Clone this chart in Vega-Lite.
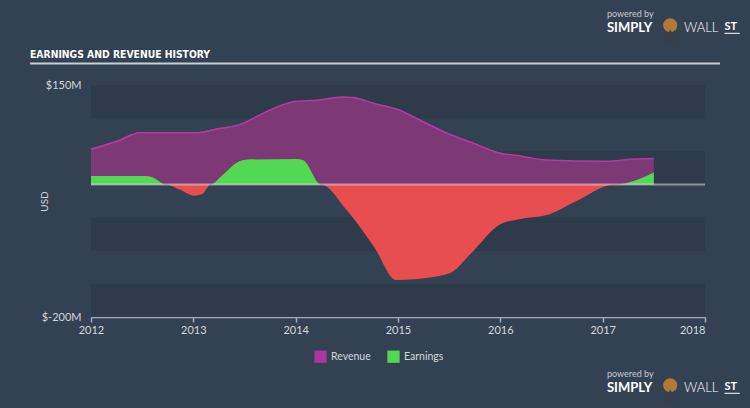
{
  "$schema": "https://vega.github.io/schema/vega-lite/v6.json",
  "autosize": "none",
  "width": 614,
  "height": 232,
  "padding": {"left": 91, "top": 85, "right": 45, "bottom": 91},
  "background": "#334252",
  "config": {"view": {"stroke": null}},
  "datasets": {
    "revenue": [
      {"year": 2012.0, "value": 53},
      {"year": 2012.27, "value": 66},
      {"year": 2012.48, "value": 78},
      {"year": 2013.05, "value": 78},
      {"year": 2013.21, "value": 83},
      {"year": 2013.47, "value": 91},
      {"year": 2013.69, "value": 108},
      {"year": 2013.99, "value": 125},
      {"year": 2014.21, "value": 127},
      {"year": 2014.45, "value": 132},
      {"year": 2014.57, "value": 131},
      {"year": 2014.77, "value": 122},
      {"year": 2015.0, "value": 113},
      {"year": 2015.24, "value": 95},
      {"year": 2015.48, "value": 77},
      {"year": 2015.72, "value": 63},
      {"year": 2016.0, "value": 47},
      {"year": 2016.2, "value": 43},
      {"year": 2016.44, "value": 37},
      {"year": 2017.04, "value": 35},
      {"year": 2017.28, "value": 38},
      {"year": 2017.5, "value": 39}
    ],
    "earnings": [
      {"year": 2012.0, "value": 12.6, "series": "Earnings", "seg": "p1"},
      {"year": 2012.53, "value": 12.6, "series": "Earnings", "seg": "p1"},
      {"year": 2012.6, "value": 11, "series": "Earnings", "seg": "p1"},
      {"year": 2012.73, "value": 0, "series": "Earnings", "seg": "p1"},
      {"year": 2012.73, "value": 0, "series": "Loss", "seg": "n1"},
      {"year": 2012.87, "value": -8, "series": "Loss", "seg": "n1"},
      {"year": 2013.01, "value": -17, "series": "Loss", "seg": "n1"},
      {"year": 2013.09, "value": -14, "series": "Loss", "seg": "n1"},
      {"year": 2013.17, "value": 0, "series": "Loss", "seg": "n1"},
      {"year": 2013.17, "value": 0, "series": "Earnings", "seg": "p2"},
      {"year": 2013.27, "value": 12, "series": "Earnings", "seg": "p2"},
      {"year": 2013.45, "value": 35, "series": "Earnings", "seg": "p2"},
      {"year": 2013.53, "value": 37.5, "series": "Earnings", "seg": "p2"},
      {"year": 2014.0, "value": 38.5, "series": "Earnings", "seg": "p2"},
      {"year": 2014.07, "value": 37, "series": "Earnings", "seg": "p2"},
      {"year": 2014.25, "value": 0, "series": "Earnings", "seg": "p2"},
      {"year": 2014.25, "value": 0, "series": "Loss", "seg": "n2"},
      {"year": 2014.49, "value": -37, "series": "Loss", "seg": "n2"},
      {"year": 2014.77, "value": -95, "series": "Loss", "seg": "n2"},
      {"year": 2014.98, "value": -144, "series": "Loss", "seg": "n2"},
      {"year": 2015.4, "value": -138, "series": "Loss", "seg": "n2"},
      {"year": 2015.52, "value": -133, "series": "Loss", "seg": "n2"},
      {"year": 2015.72, "value": -103, "series": "Loss", "seg": "n2"},
      {"year": 2016.0, "value": -60, "series": "Loss", "seg": "n2"},
      {"year": 2016.2, "value": -52, "series": "Loss", "seg": "n2"},
      {"year": 2016.48, "value": -45, "series": "Loss", "seg": "n2"},
      {"year": 2016.72, "value": -27, "series": "Loss", "seg": "n2"},
      {"year": 2017.12, "value": 0, "series": "Loss", "seg": "n2"},
      {"year": 2017.12, "value": 0, "series": "Earnings", "seg": "p3"},
      {"year": 2017.5, "value": 18, "series": "Earnings", "seg": "p3"}
    ]
  },
  "layer": [
    {
      "data": {"name": "revenue"},
      "mark": {"type": "area", "interpolate": "monotone", "fill": "#7d3876", "opacity": 1, "fillOpacity": 1, "line": {"stroke": "#b23aa5", "strokeWidth": 1.5}},
      "encoding": {
        "x": {
          "field": "year", "type": "quantitative",
          "scale": {"domain": [2012, 2018], "nice": false, "zero": false},
          "axis": {
            "values": [2012, 2013, 2014, 2015, 2016, 2017, 2018],
            "format": "d", "title": null, "grid": false,
            "domainColor": "#a3adb7", "domainWidth": 1.5,
            "tickColor": "#a3adb7", "tickSize": 5, "tickWidth": 1.5,
            "labelColor": "#d3d7db", "labelFont": "Lato", "labelFontSize": 11,
            "labelPadding": 2, "labelFlush": false,
            "labelAlign": {"condition": {"test": "datum.value == 2018", "value": "right"}, "value": "center"}
          }
        },
        "y": {
          "field": "value", "type": "quantitative",
          "scale": {"domain": [-200, 150], "nice": false},
          "axis": {
            "values": [150, -200],
            "labelExpr": "'$' + datum.value + 'M'",
            "title": "USD", "domain": false, "ticks": false, "grid": false,
            "labelColor": "#d3d7db", "labelFont": "Lato", "labelFontSize": 11, "labelPadding": 10,
            "titleColor": "#d3d7db", "titleFont": "Lato", "titleFontSize": 10, "titleFontWeight": "normal",
            "titlePadding": -8
          }
        }
      }
    },
    {
      "data": {"values": [{}]},
      "mark": {"type": "rect", "color": "#2d3b4a"},
      "encoding": {
        "x": {"datum": 2012, "type": "quantitative"},
        "x2": {"datum": 2018},
        "y": {"datum": 150, "type": "quantitative"},
        "y2": {"datum": 100}
      }
    },
    {
      "data": {"values": [{}]},
      "mark": {"type": "rect", "color": "#2d3b4a"},
      "encoding": {
        "x": {"datum": 2012, "type": "quantitative"},
        "x2": {"datum": 2018},
        "y": {"datum": 50, "type": "quantitative"},
        "y2": {"datum": 0}
      }
    },
    {
      "data": {"values": [{}]},
      "mark": {"type": "rect", "color": "#2d3b4a"},
      "encoding": {
        "x": {"datum": 2012, "type": "quantitative"},
        "x2": {"datum": 2018},
        "y": {"datum": -50, "type": "quantitative"},
        "y2": {"datum": -100}
      }
    },
    {
      "data": {"values": [{}]},
      "mark": {"type": "rect", "color": "#2d3b4a"},
      "encoding": {
        "x": {"datum": 2012, "type": "quantitative"},
        "x2": {"datum": 2018},
        "y": {"datum": -150, "type": "quantitative"},
        "y2": {"datum": -200}
      }
    },
    {
      "data": {"name": "revenue"},
      "mark": {"type": "area", "interpolate": "monotone", "fill": "#7d3876", "opacity": 1, "fillOpacity": 1, "line": {"stroke": "#b23aa5", "strokeWidth": 1.5}},
      "encoding": {
        "x": {"field": "year", "type": "quantitative"},
        "y": {"field": "value", "type": "quantitative"}
      }
    },
    {
      "data": {"name": "earnings"},
      "mark": {"type": "area", "interpolate": "monotone", "opacity": 1},
      "encoding": {
        "x": {"field": "year", "type": "quantitative"},
        "y": {"field": "value", "type": "quantitative"},
        "detail": {"field": "seg"},
        "color": {
          "field": "series", "type": "nominal",
          "scale": {"domain": ["Revenue", "Earnings", "Loss"], "range": ["#a8389b", "#52d852", "#e84e4f"]},
          "legend": {
            "values": ["Revenue", "Earnings"], "title": null,
            "orient": "none", "legendX": 223, "legendY": 265,
            "direction": "horizontal", "symbolType": "square", "symbolSize": 150,
            "symbolStrokeWidth": 0, "symbolOpacity": 1,
            "labelColor": "#d3d7db", "labelFont": "Lato", "labelFontSize": 10.5,
            "columnPadding": 16, "padding": 0
          }
        }
      }
    },
    {
      "data": {"values": [{}]},
      "mark": {"type": "rule", "color": "#ffffff", "opacity": 0.45, "strokeWidth": 2},
      "encoding": {
        "x": {"datum": 2012, "type": "quantitative"},
        "x2": {"datum": 2018},
        "y": {"datum": 0, "type": "quantitative"}
      }
    },
    {
      "data": {"values": [{}]},
      "mark": {"type": "text", "text": "EARNINGS AND REVENUE HISTORY", "align": "left", "baseline": "alphabetic", "font": "DejaVu Sans Condensed, Roboto, sans-serif", "fontWeight": "bold", "fontSize": 10.3, "color": "#ffffff"},
      "encoding": {
        "x": {"datum": 2011.404, "type": "quantitative"},
        "y": {"datum": 190.7, "type": "quantitative"}
      }
    },
    {
      "data": {"values": [{}]},
      "mark": {"type": "rule", "color": "#c9ced3", "strokeWidth": 2},
      "encoding": {
        "x": {"datum": 2011.404, "type": "quantitative"},
        "x2": {"datum": 2018.147},
        "y": {"datum": 182.4, "type": "quantitative"}
      }
    },
    {
      "data": {"values": [{}]},
      "mark": {"type": "text", "text": "powered by", "align": "left", "baseline": "middle", "font": "Lato", "fontSize": 9, "color": "#c6cacf"},
      "encoding": {
        "x": {"datum": 2017.042, "type": "quantitative"},
        "y": {"datum": 257.1, "type": "quantitative"}
      }
    },
    {
      "data": {"values": [{}]},
      "mark": {"type": "text", "text": "SIMPLY", "align": "left", "baseline": "middle", "font": "Lato", "fontWeight": "bold", "fontSize": 13, "color": "#ffffff"},
      "encoding": {
        "x": {"datum": 2017.042, "type": "quantitative"},
        "y": {"datum": 235.5, "type": "quantitative"}
      }
    },
    {
      "data": {"values": [{}]},
      "mark": {"type": "point", "shape": "circle", "filled": true, "size": 200, "color": "#b27a3a", "opacity": 1},
      "encoding": {
        "x": {"datum": 2017.66, "type": "quantitative"},
        "y": {"datum": 240, "type": "quantitative"}
      }
    },
    {
      "data": {"values": [{}]},
      "mark": {"type": "point", "shape": "triangle-up", "filled": true, "size": 220, "color": "#3b3f45", "opacity": 1},
      "encoding": {
        "x": {"datum": 2017.66, "type": "quantitative"},
        "y": {"datum": 224, "type": "quantitative"}
      }
    },
    {
      "data": {"values": [{}]},
      "mark": {"type": "text", "text": "WALL", "align": "left", "baseline": "middle", "font": "Lato", "fontWeight": 300, "fontSize": 13, "color": "#ffffff"},
      "encoding": {
        "x": {"datum": 2017.795, "type": "quantitative"},
        "y": {"datum": 235.5, "type": "quantitative"}
      }
    },
    {
      "data": {"values": [{}]},
      "mark": {"type": "text", "text": "ST", "align": "left", "baseline": "middle", "font": "Lato", "fontWeight": "bold", "fontSize": 11, "color": "#ffffff"},
      "encoding": {
        "x": {"datum": 2018.19, "type": "quantitative"},
        "y": {"datum": 237, "type": "quantitative"}
      }
    },
    {
      "data": {"values": [{}]},
      "mark": {"type": "rule", "color": "#ffffff", "strokeWidth": 1},
      "encoding": {
        "x": {"datum": 2018.19, "type": "quantitative"},
        "x2": {"datum": 2018.34},
        "y": {"datum": 228, "type": "quantitative"}
      }
    },
    {
      "data": {"values": [{}]},
      "mark": {"type": "text", "text": "powered by", "align": "left", "baseline": "middle", "font": "Lato", "fontSize": 9, "color": "#c6cacf"},
      "encoding": {
        "x": {"datum": 2017.042, "type": "quantitative"},
        "y": {"datum": -286.0, "type": "quantitative"}
      }
    },
    {
      "data": {"values": [{}]},
      "mark": {"type": "text", "text": "SIMPLY", "align": "left", "baseline": "middle", "font": "Lato", "fontWeight": "bold", "fontSize": 13, "color": "#ffffff"},
      "encoding": {
        "x": {"datum": 2017.042, "type": "quantitative"},
        "y": {"datum": -307.6, "type": "quantitative"}
      }
    },
    {
      "data": {"values": [{}]},
      "mark": {"type": "point", "shape": "circle", "filled": true, "size": 200, "color": "#b27a3a", "opacity": 1},
      "encoding": {
        "x": {"datum": 2017.66, "type": "quantitative"},
        "y": {"datum": -303.1, "type": "quantitative"}
      }
    },
    {
      "data": {"values": [{}]},
      "mark": {"type": "point", "shape": "triangle-up", "filled": true, "size": 220, "color": "#3b3f45", "opacity": 1},
      "encoding": {
        "x": {"datum": 2017.66, "type": "quantitative"},
        "y": {"datum": -319.1, "type": "quantitative"}
      }
    },
    {
      "data": {"values": [{}]},
      "mark": {"type": "text", "text": "WALL", "align": "left", "baseline": "middle", "font": "Lato", "fontWeight": 300, "fontSize": 13, "color": "#ffffff"},
      "encoding": {
        "x": {"datum": 2017.795, "type": "quantitative"},
        "y": {"datum": -307.6, "type": "quantitative"}
      }
    },
    {
      "data": {"values": [{}]},
      "mark": {"type": "text", "text": "ST", "align": "left", "baseline": "middle", "font": "Lato", "fontWeight": "bold", "fontSize": 11, "color": "#ffffff"},
      "encoding": {
        "x": {"datum": 2018.19, "type": "quantitative"},
        "y": {"datum": -306.1, "type": "quantitative"}
      }
    },
    {
      "data": {"values": [{}]},
      "mark": {"type": "rule", "color": "#ffffff", "strokeWidth": 1},
      "encoding": {
        "x": {"datum": 2018.19, "type": "quantitative"},
        "x2": {"datum": 2018.34},
        "y": {"datum": -315.1, "type": "quantitative"}
      }
    },
    {
      "data": {"values": [{}]},
      "mark": {"type": "text", "text": "EARNINGS AND REVENUE HISTORY", "align": "left", "baseline": "alphabetic", "font": "DejaVu Sans Condensed, Roboto, sans-serif", "fontWeight": "bold", "fontSize": 10.3, "color": "#ffffff"},
      "encoding": {
        "x": {"datum": 2011.404, "type": "quantitative"},
        "y": {"datum": -352.4, "type": "quantitative"}
      }
    }
  ]
}
